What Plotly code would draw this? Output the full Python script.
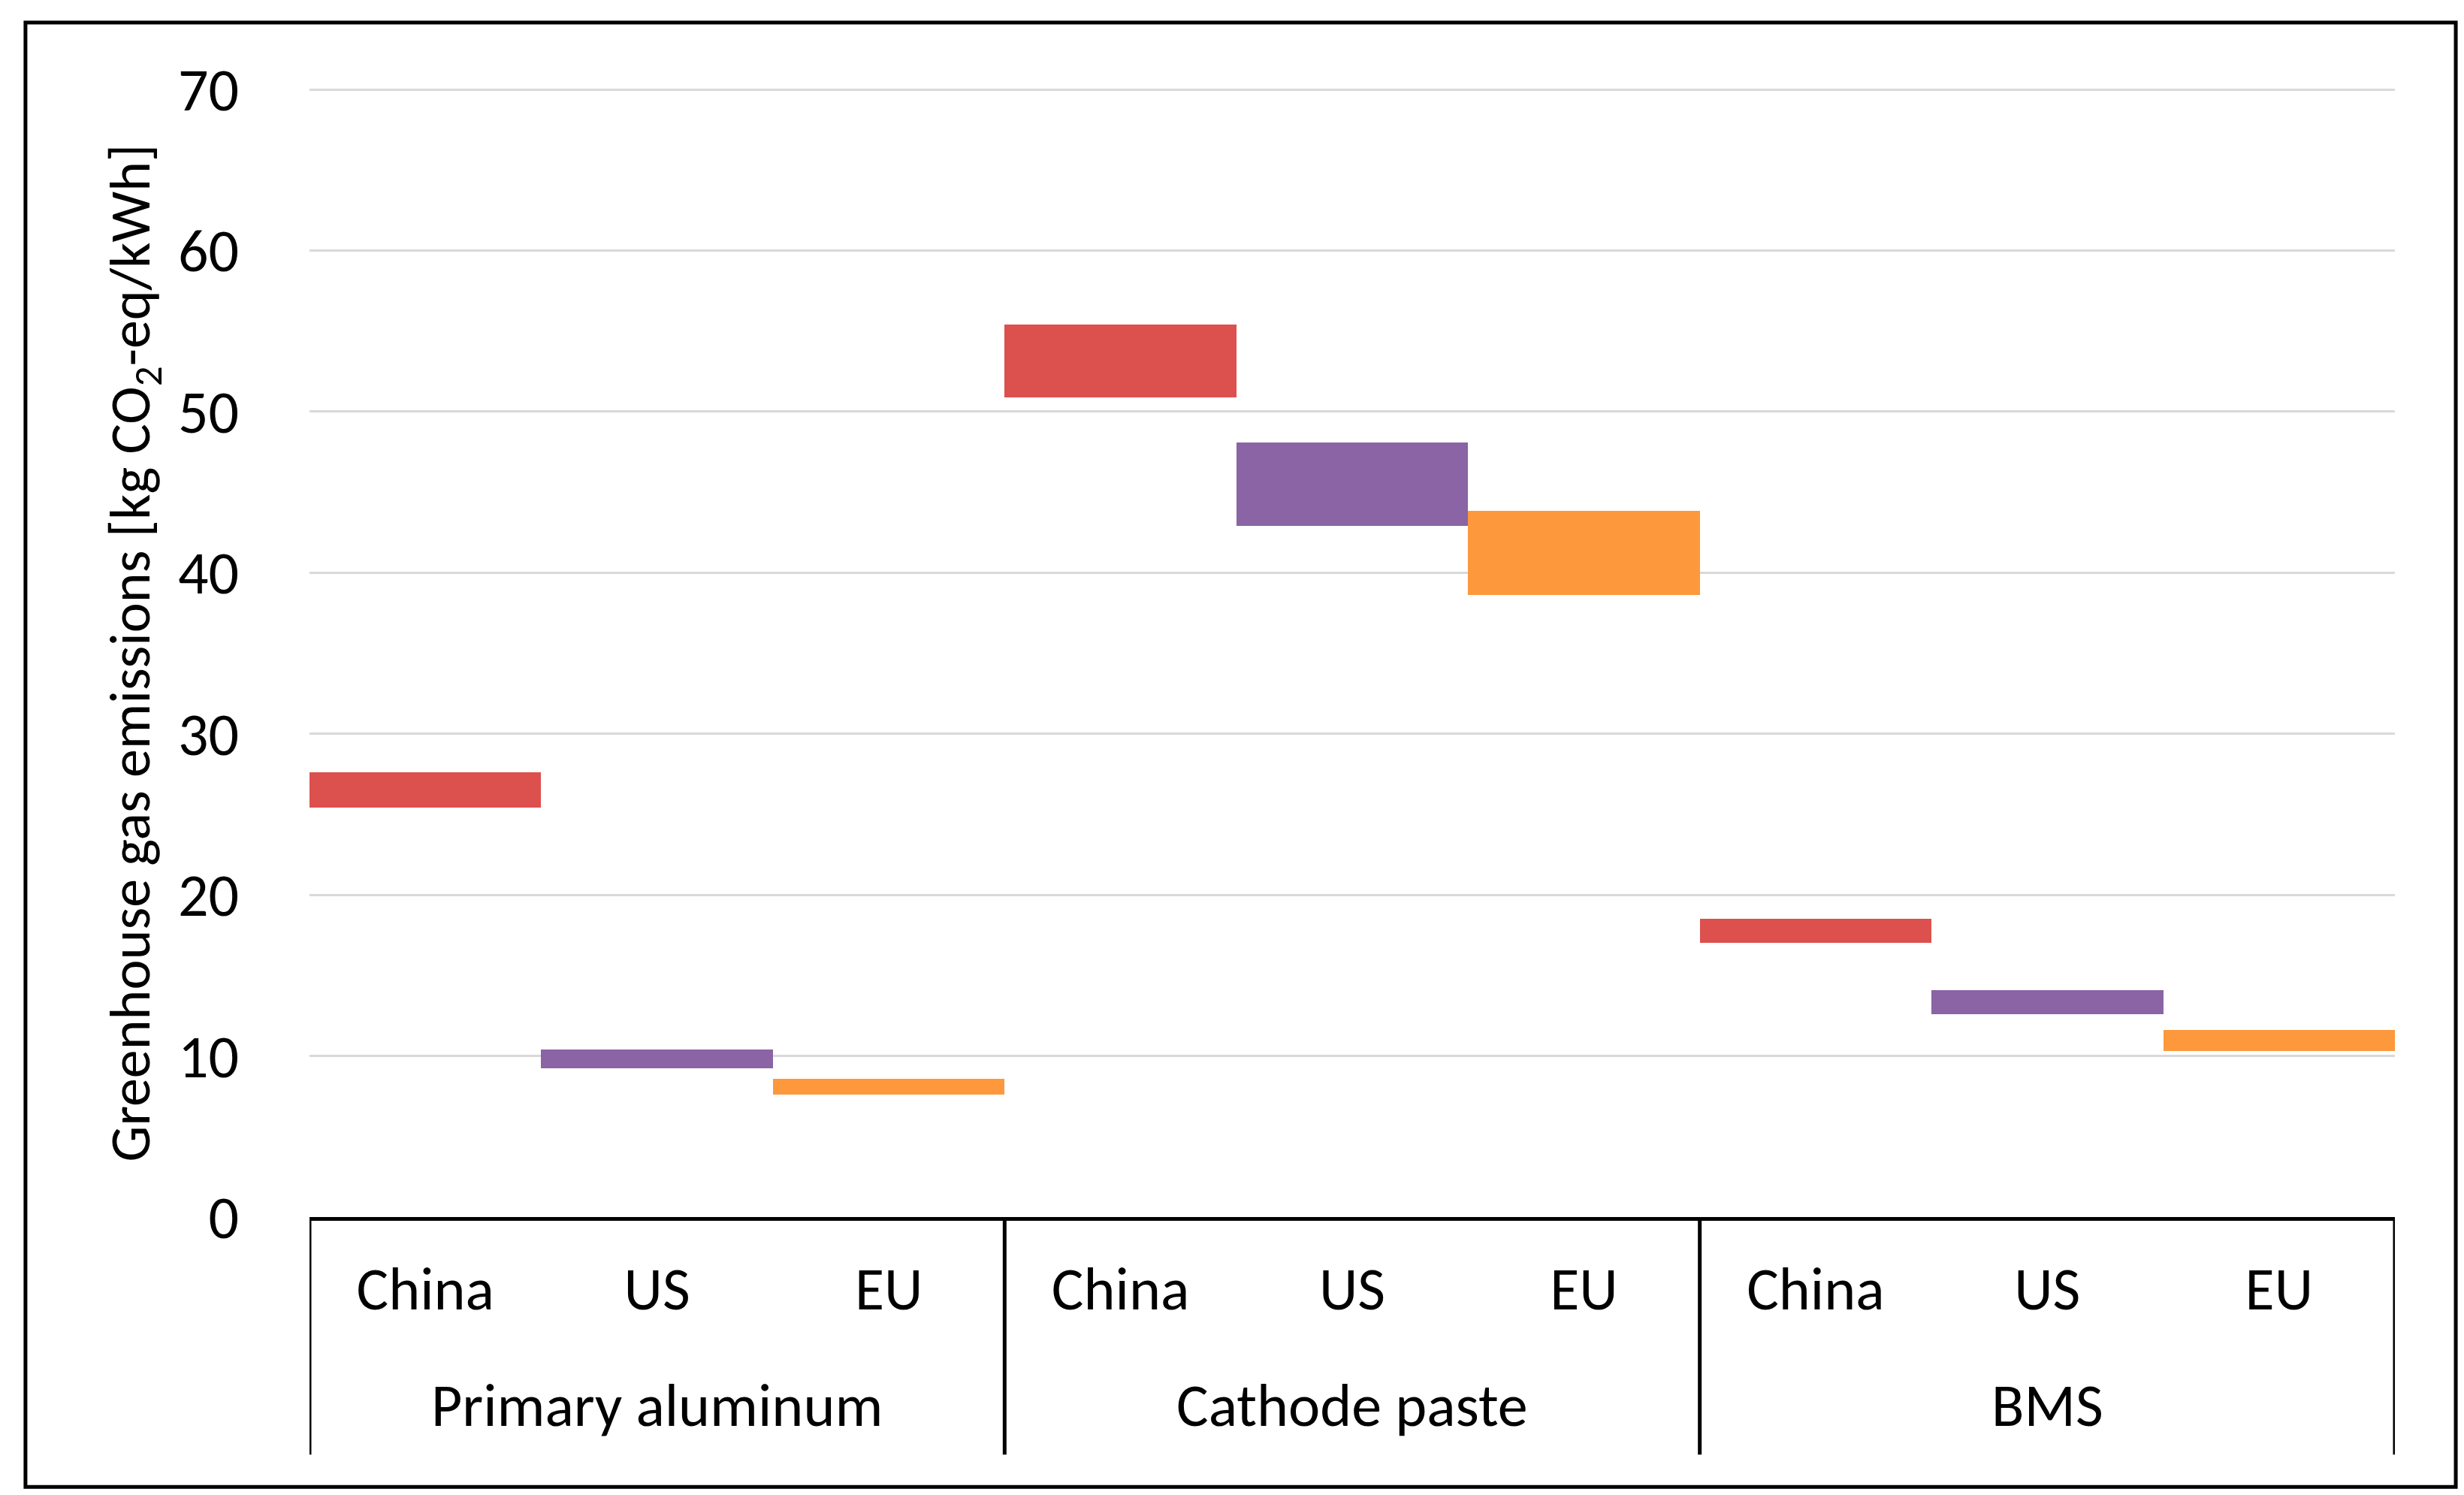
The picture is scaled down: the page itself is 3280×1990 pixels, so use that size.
import plotly.graph_objects as go

# ---- data ----
groups = ["Primary aluminum", "Cathode paste", "BMS"]
regions = ["China", "US", "EU"]

china_low = [25.4, 50.9, 17.0]
china_high = [27.6, 55.4, 18.5]
us_low = [9.25, 42.9, 12.6]
us_high = [10.4, 48.1, 14.1]
eu_low = [7.6, 38.6, 10.3]
eu_high = [8.6, 43.85, 11.6]

y_ticks = [0, 10, 20, 30, 40, 50, 60, 70]

colors = {"China": "#DC504D", "US": "#8A64A4", "EU": "#FD983C"}
series = {
    "China": (china_low, china_high),
    "US": (us_low, us_high),
    "EU": (eu_low, eu_high),
}

FONT = "Carlito, Calibri, Lato, sans-serif"
n_reg = len(regions)
n_cat = len(groups) * n_reg

fig = go.Figure()
for ri, reg in enumerate(regions):
    lo, hi = series[reg]
    xs = [gi * n_reg + ri for gi in range(len(groups))]
    fig.add_trace(go.Bar(
        x=xs,
        y=[h - l for h, l in zip(hi, lo)],
        base=lo,
        width=1.0,
        marker=dict(color=colors[reg], line=dict(width=0)),
        name=reg,
        showlegend=False,
    ))

fig.update_layout(
    width=3280, height=1990,
    margin=dict(l=404, r=100, t=110, b=378),
    paper_bgcolor="white", plot_bgcolor="white",
    barmode="overlay", bargap=0,
    font=dict(family=FONT, size=80, color="black"),
)

tick_pos = list(range(n_cat))
tick_txt = [regions[i % n_reg] for i in tick_pos]

fig.update_xaxes(
    range=[-0.5, n_cat - 0.5],
    tickvals=tick_pos, ticktext=tick_txt,
    showline=True, linecolor="black", linewidth=5,
    showgrid=False, zeroline=False, ticks="",
    ticklabelstandoff=22,
    tickfont=dict(family=FONT, size=80, color="black"),
)

fig.update_yaxes(
    range=[0, 70.05], tickvals=y_ticks,
    showgrid=True, gridcolor="#D9D9D9", gridwidth=3,
    zeroline=False, showline=False,
    ticks="", ticklabelstandoff=93,
    tickfont=dict(family=FONT, size=80, color="black"),
    title=dict(text="Greenhouse gas emissions [kg CO<sub>2</sub>-eq/kWh]",
               font=dict(family=FONT, size=76, color="black"), standoff=12),
)

# group labels (second row of the category axis)
for gi, g in enumerate(groups):
    fig.add_annotation(
        x=gi * n_reg + (n_reg - 1) / 2, xref="x",
        y=-0.167, yref="paper", yanchor="middle",
        text=g, showarrow=False,
        font=dict(family=FONT, size=80, color="black"),
    )

# group dividers below the category axis
for gi in range(len(groups) + 1):
    xb = gi * n_reg - 0.5
    fig.add_shape(type="line", xref="x", yref="paper",
                  x0=xb, x1=xb, y0=0, y1=-0.2105,
                  line=dict(color="black", width=5))

# outer frame around the whole chart
fig.add_shape(type="rect", xref="paper", yref="paper",
              x0=-0.1362, x1=1.0292, y0=-0.2392, y1=1.0586,
              line=dict(color="black", width=5), fillcolor="rgba(0,0,0,0)",
              layer="above")

fig.write_html("out.html")
